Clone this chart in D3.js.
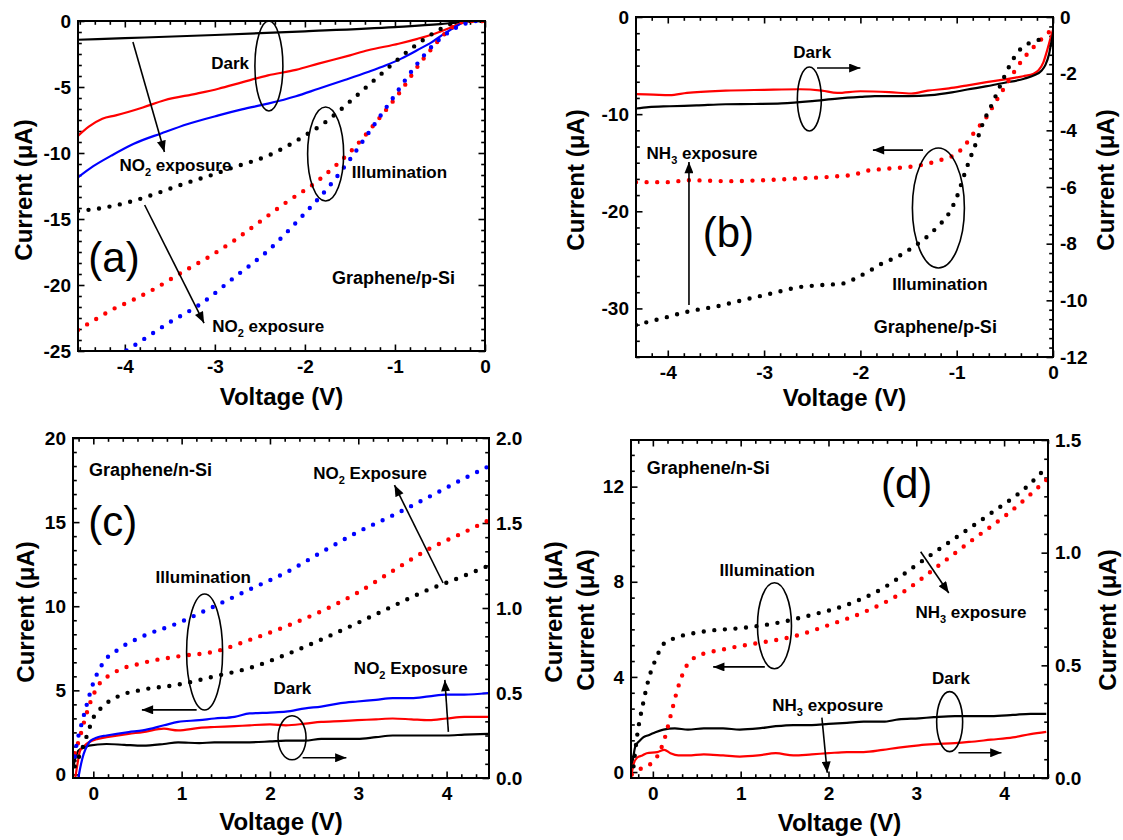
<!DOCTYPE html>
<html><head><meta charset="utf-8">
<script src="https://cdn.jsdelivr.net/npm/d3@7"></script>
<style>
body{margin:0;background:#fff;}
svg text{font-family:"Liberation Sans",Arial,sans-serif;fill:#000;}
</style>
</head><body>
<svg id="fig" width="1123" height="840"></svg>
<script>
// ---------------- DATA (voltage V, current uA) ----------------
// Panel (a) Graphene/p-Si, NO2
const aDark0 = [[-4.52,-1.42],[-4.0,-1.3],[-3.0,-1.06],[-2.0,-0.78],[-1.0,-0.46],[-0.5,-0.24],[-0.25,-0.08],[0,0]];
const aDark1 = [[-4.52,-8.7],[-4.4,-8.0],[-4.25,-7.4],[-4.1,-7.15],[-3.8,-6.55],[-3.56,-6.0],[-3.2,-5.5],[-2.96,-5.13],[-2.7,-4.65],[-2.41,-4.12],[-2.1,-3.7],[-1.85,-3.23],[-1.5,-2.6],[-1.3,-2.22],[-0.96,-1.72],[-0.75,-1.35],[-0.56,-0.96],[-0.4,-0.55],[-0.26,-0.15],[-0.15,0],[0,0]];
const aDark2 = [[-4.52,-11.85],[-4.35,-11.0],[-4.15,-10.2],[-3.9,-9.3],[-3.59,-8.5],[-3.3,-7.8],[-2.96,-7.15],[-2.7,-6.7],[-2.41,-6.26],[-2.1,-5.7],[-1.85,-5.13],[-1.55,-4.45],[-1.3,-3.86],[-1.1,-3.35],[-0.93,-2.85],[-0.75,-2.2],[-0.59,-1.6],[-0.45,-0.95],[-0.33,-0.45],[-0.19,0],[0,0]];
const aIllum0 = [[-4.52,-14.4],[-4.2,-14.1],[-3.89,-13.6],[-3.6,-12.95],[-3.33,-12.3],[-3.05,-11.7],[-2.78,-11.06],[-2.41,-10.2],[-2.15,-9.3],[-1.96,-8.5],[-1.8,-7.8],[-1.67,-7.1],[-1.5,-6.1],[-1.3,-4.9],[-1.15,-4.0],[-1.0,-3.1],[-0.85,-2.25],[-0.7,-1.5],[-0.58,-0.95],[-0.48,-0.55],[-0.37,-0.2],[-0.26,0],[0,0]];
const aIllum1 = [[-4.52,-23.4],[-4.3,-22.5],[-4.15,-21.9],[-3.9,-21.1],[-3.7,-20.4],[-3.33,-18.9],[-3.05,-17.8],[-2.78,-16.6],[-2.5,-15.2],[-2.22,-13.8],[-1.85,-12.07],[-1.65,-10.9],[-1.48,-9.8],[-1.19,-7.5],[-0.93,-5.25],[-0.7,-3.0],[-0.58,-2.0],[-0.48,-1.2],[-0.33,-0.33],[-0.19,0],[0,0]];
const aIllum2 = [[-4.08,-25.4],[-3.81,-24.2],[-3.52,-22.9],[-3.15,-21.4],[-2.78,-19.4],[-2.41,-17.4],[-2.04,-14.85],[-1.74,-12.6],[-1.48,-10.3],[-1.3,-8.54],[-1.04,-6.0],[-0.78,-3.48],[-0.56,-1.72],[-0.37,-0.7],[-0.2,-0.15],[-0.11,0],[0,0]];

// Panel (b) Graphene/p-Si, NH3 (dark on right axis, illumination on left axis)
const bDark0 = [[-4.33,-3.23],[-4.2,-3.18],[-3.98,-3.15],[-3.7,-3.12],[-3.4,-3.08],[-3.1,-3.07],[-2.82,-3.05],[-2.5,-2.97],[-2.24,-2.88],[-2.0,-2.82],[-1.85,-2.79],[-1.5,-2.79],[-1.27,-2.76],[-1.05,-2.66],[-0.89,-2.56],[-0.7,-2.45],[-0.5,-2.32],[-0.3,-2.18],[-0.19,-2.05],[-0.12,-1.9],[-0.08,-1.7],[-0.04,-1.3],[-0.02,-0.94],[0,-0.59]];
const bDark1 = [[-4.33,-2.72],[-4.15,-2.74],[-3.98,-2.76],[-3.8,-2.68],[-3.4,-2.6],[-3.0,-2.57],[-2.63,-2.55],[-2.4,-2.6],[-2.24,-2.68],[-2.0,-2.62],[-1.7,-2.65],[-1.47,-2.7],[-1.3,-2.6],[-1.08,-2.52],[-0.9,-2.42],[-0.69,-2.3],[-0.5,-2.2],[-0.31,-2.09],[-0.2,-2.0],[-0.15,-1.88],[-0.1,-1.6],[-0.06,-1.17],[-0.03,-0.8],[0,-0.45]];
const bIllum0 = [[-4.33,-31.7],[-4.05,-31.0],[-3.78,-30.3],[-3.5,-29.8],[-3.2,-29.1],[-2.9,-28.4],[-2.63,-27.8],[-2.4,-27.6],[-2.16,-27.4],[-2.05,-26.9],[-1.9,-26.1],[-1.78,-25.4],[-1.6,-24.6],[-1.47,-23.8],[-1.33,-22.8],[-1.2,-21.6],[-1.08,-20.2],[-0.99,-18.3],[-0.93,-16.5],[-0.87,-14.8],[-0.8,-13.0],[-0.73,-11.0],[-0.63,-8.9],[-0.54,-6.9],[-0.45,-5.0],[-0.35,-3.43],[-0.25,-2.7],[-0.12,-2.3]];
const bIllum1 = [[-4.33,-17.0],[-4.0,-17.0],[-3.78,-16.8],[-3.4,-16.9],[-3.01,-16.8],[-2.6,-16.6],[-2.24,-16.4],[-2.05,-16.2],[-1.97,-15.9],[-1.7,-15.6],[-1.47,-15.4],[-1.3,-15.1],[-1.16,-14.7],[-1.0,-14.05],[-0.92,-13.3],[-0.85,-12.3],[-0.77,-11.3],[-0.69,-10.3],[-0.6,-8.8],[-0.5,-7.2],[-0.4,-5.6],[-0.31,-4.3],[-0.22,-3.3],[-0.15,-2.57],[-0.08,-1.9],[-0.04,-1.54]];

// Panel (c) Graphene/n-Si, NO2 (illumination left axis, dark right axis)
const cIllum0 = [[-0.21,0.48],[-0.13,1.47],[-0.06,2.5],[-0.01,3.25],[0.11,4.05],[0.28,4.64],[0.56,5.04],[0.96,5.34],[1.37,5.83],[1.77,6.33],[2.18,7.12],[2.58,8.02],[2.99,9.0],[3.39,10.0],[3.8,11.0],[4.0,11.4],[4.47,12.4]];
const cIllum1 = [[-0.21,1.27],[-0.15,2.26],[-0.1,3.2],[-0.05,4.05],[0.05,5.24],[0.23,6.03],[0.56,6.63],[0.96,7.02],[1.37,7.3],[1.77,8.0],[2.18,8.8],[2.58,9.7],[2.99,10.8],[3.39,12.1],[3.8,13.4],[4.2,14.4],[4.47,15.1]];
const cIllum2 = [[-0.21,1.07],[-0.19,1.77],[-0.15,2.66],[-0.09,3.85],[0,5.44],[0.11,6.63],[0.28,7.42],[0.56,8.21],[0.96,9.0],[1.37,10.0],[1.77,11.0],[2.18,12.0],[2.58,13.2],[2.99,14.4],[3.39,15.4],[3.8,16.5],[4.2,17.6],[4.47,18.3]];
const cDark0 = [[-0.23,0.06],[-0.2,0.12],[-0.17,0.16],[-0.1,0.18],[-0.05,0.19],[0.15,0.2],[0.35,0.195],[0.56,0.19],[0.8,0.2],[0.96,0.21],[1.2,0.205],[1.37,0.21],[1.6,0.21],[1.77,0.21],[2.0,0.215],[2.18,0.22],[2.4,0.22],[2.58,0.23],[2.8,0.23],[2.99,0.23],[3.2,0.24],[3.39,0.25],[3.6,0.25],[3.8,0.25],[4.0,0.25],[4.2,0.255],[4.47,0.26]];
const cDark1 = [[-0.21,-0.02],[-0.18,0.08],[-0.15,0.16],[-0.1,0.19],[-0.05,0.21],[0.05,0.23],[0.15,0.24],[0.4,0.26],[0.56,0.27],[0.8,0.29],[0.96,0.28],[1.2,0.295],[1.37,0.3],[1.6,0.305],[1.77,0.31],[2.0,0.315],[2.18,0.31],[2.4,0.32],[2.58,0.33],[2.8,0.335],[2.99,0.34],[3.2,0.345],[3.39,0.35],[3.6,0.345],[3.8,0.34],[4.0,0.35],[4.2,0.36],[4.47,0.36]];
const cDark2 = [[-0.18,-0.03],[-0.14,0.08],[-0.11,0.14],[-0.07,0.19],[-0.03,0.22],[0.05,0.24],[0.15,0.25],[0.4,0.27],[0.56,0.28],[0.8,0.31],[0.96,0.33],[1.2,0.34],[1.37,0.35],[1.6,0.36],[1.77,0.38],[2.0,0.385],[2.18,0.39],[2.4,0.41],[2.58,0.42],[2.8,0.44],[2.99,0.45],[3.2,0.46],[3.39,0.47],[3.6,0.47],[3.8,0.48],[4.0,0.49],[4.2,0.49],[4.47,0.5]];

// Panel (d) Graphene/n-Si, NH3
const dIllum0 = [[-0.22,0.24],[-0.18,1.5],[-0.11,2.9],[-0.05,3.88],[0.03,4.72],[0.13,5.42],[0.25,5.63],[0.58,5.91],[0.99,6.05],[1.4,6.26],[1.81,6.61],[2.21,7.03],[2.62,7.73],[3.03,8.78],[3.44,9.83],[3.85,10.88],[4.26,12.0],[4.48,12.8]];
const dIllum1 = [[-0.24,-0.1],[-0.15,0.12],[-0.07,0.24],[0.05,0.66],[0.13,1.36],[0.21,2.48],[0.29,3.6],[0.38,4.44],[0.5,4.86],[0.78,5.14],[1.19,5.42],[1.6,5.7],[2.01,6.19],[2.42,6.75],[2.83,7.52],[3.24,8.64],[3.64,9.76],[4.05,10.88],[4.48,12.28]];
const dDark0 = [[-0.25,0.02],[-0.22,0.1],[-0.2,0.14],[-0.15,0.165],[-0.11,0.18],[-0.05,0.19],[0.01,0.2],[0.12,0.215],[0.25,0.22],[0.4,0.215],[0.58,0.22],[0.8,0.22],[0.99,0.215],[1.2,0.22],[1.4,0.23],[1.6,0.235],[1.81,0.235],[2.0,0.24],[2.21,0.245],[2.4,0.25],[2.62,0.25],[2.8,0.26],[3.03,0.265],[3.2,0.27],[3.44,0.275],[3.6,0.275],[3.85,0.275],[4.1,0.28],[4.3,0.285],[4.48,0.285]];
const dDark1 = [[-0.25,0.0],[-0.22,0.06],[-0.18,0.09],[-0.12,0.1],[-0.07,0.11],[0.05,0.115],[0.13,0.125],[0.2,0.11],[0.29,0.1],[0.4,0.1],[0.58,0.105],[0.8,0.1],[0.99,0.095],[1.2,0.1],[1.4,0.11],[1.6,0.1],[1.81,0.105],[2.0,0.11],[2.21,0.115],[2.4,0.115],[2.62,0.125],[2.8,0.135],[3.03,0.145],[3.2,0.15],[3.44,0.155],[3.6,0.16],[3.85,0.17],[4.1,0.18],[4.3,0.195],[4.48,0.205]];

// Tick values
const aXTicks = [-4,-3,-2,-1,0];
const aYTicks = [0,-5,-10,-15,-20,-25];
const bXTicks = [-4,-3,-2,-1,0];
const bYTicks = [0,-10,-20,-30];
const bY2Ticks = [0,-2,-4,-6,-8,-10,-12];
const cXTicks = [0,1,2,3,4];
const cYTicks = [0,5,10,15,20];
const cY2Ticks = [0,0.5,1.0,1.5,2.0];
const dXTicks = [0,1,2,3,4];
const dYTicks = [0,4,8,12];
const dY2Ticks = [0,0.5,1.0,1.5];

// ---------------- DRAWING ----------------
const RED = "#ff0000", BLUE = "#0000ff", BLACK = "#000000";
const svg = d3.select("#fig");
const defs = svg.append("defs");
defs.append("marker").attr("id","ah").attr("viewBox","0 0 10 8")
  .attr("refX",10).attr("refY",4).attr("markerWidth",12).attr("markerHeight",9)
  .attr("markerUnits","userSpaceOnUse").attr("orient","auto")
  .append("path").attr("d","M0,0L10,4L0,8Z").attr("fill","#000");

function minorTicks(domain, majors, n) {
  const step = Math.abs(majors[1]-majors[0]) / n;
  const lo = Math.min(domain[0],domain[1]), hi = Math.max(domain[0],domain[1]);
  const out = [];
  for (let k = Math.ceil(lo/step - 1e-6); k*step <= hi + 1e-6; k++) {
    const v = k*step;
    if (!majors.some(m => Math.abs(m - v) < step*0.05)) out.push(v);
  }
  return out;
}
const intFmt = d => String(d);
const oneDec = d => d.toFixed(1);

function styleAxis(sel, fontSize) {
  sel.select(".domain").remove();
  sel.selectAll(".tick line").attr("stroke","#000").attr("stroke-width",1.6);
  sel.selectAll(".tick text").attr("font-size",fontSize).attr("font-weight","bold")
     .attr("font-family","'Liberation Sans',Arial,sans-serif").attr("fill","#000");
  sel.attr("font-family",null).attr("font-size",null);
}

let clipId = 0;
function drawPanel(p) {
  const g = svg.append("g");
  const x = d3.scaleLinear().domain(p.xDomain).range([p.left, p.right]);
  const yL = d3.scaleLinear().domain(p.yDomain).range([p.bottom, p.top]);
  const yR = p.y2Domain ? d3.scaleLinear().domain(p.y2Domain).range([p.bottom, p.top]) : null;
  const MJ = 6.5, MN = 3.8, TF = 19;

  // axes
  const xMin = minorTicks(p.xDomain, p.xTicks, 6);
  const yMin = minorTicks(p.yDomain, p.yTicks, 6);
  g.append("g").attr("transform",`translate(0,${p.bottom})`)
    .call(d3.axisBottom(x).tickValues(p.xTicks).tickSize(-MJ).tickPadding(9).tickFormat(p.xFmt)).call(styleAxis, TF);
  g.append("g").attr("transform",`translate(0,${p.bottom})`)
    .call(d3.axisBottom(x).tickValues(xMin).tickSize(-MN).tickFormat("")).call(styleAxis, TF);
  g.append("g").attr("transform",`translate(0,${p.top})`)
    .call(d3.axisTop(x).tickValues(p.xTicks).tickSize(-MJ).tickFormat("")).call(styleAxis, TF);
  g.append("g").attr("transform",`translate(0,${p.top})`)
    .call(d3.axisTop(x).tickValues(xMin).tickSize(-MN).tickFormat("")).call(styleAxis, TF);
  g.append("g").attr("transform",`translate(${p.left},0)`)
    .call(d3.axisLeft(yL).tickValues(p.yTicks).tickSize(-MJ).tickPadding(7).tickFormat(p.yFmt)).call(styleAxis, TF);
  g.append("g").attr("transform",`translate(${p.left},0)`)
    .call(d3.axisLeft(yL).tickValues(yMin).tickSize(-MN).tickFormat("")).call(styleAxis, TF);
  if (yR) {
    const y2Min = minorTicks(p.y2Domain, p.y2Ticks, 6);
    g.append("g").attr("transform",`translate(${p.right},0)`)
      .call(d3.axisRight(yR).tickValues(p.y2Ticks).tickSize(-MJ).tickPadding(7).tickFormat(p.y2Fmt)).call(styleAxis, TF);
    g.append("g").attr("transform",`translate(${p.right},0)`)
      .call(d3.axisRight(yR).tickValues(y2Min).tickSize(-MN).tickFormat("")).call(styleAxis, TF);
  } else {
    g.append("g").attr("transform",`translate(${p.right},0)`)
      .call(d3.axisRight(yL).tickValues(p.yTicks).tickSize(-MJ).tickFormat("")).call(styleAxis, TF);
    g.append("g").attr("transform",`translate(${p.right},0)`)
      .call(d3.axisRight(yL).tickValues(yMin).tickSize(-MN).tickFormat("")).call(styleAxis, TF);
  }

  // data
  const cid = "clip" + (clipId++);
  defs.append("clipPath").attr("id",cid).append("rect")
    .attr("x",p.left).attr("y",p.top).attr("width",p.right-p.left).attr("height",p.bottom-p.top);
  const dg = g.append("g").attr("clip-path",`url(#${cid})`);
  p.series.forEach(s => {
    const ys = s.axis === "R" ? yR : yL;
    const line = d3.line().x(d => x(d[0])).y(d => ys(d[1])).curve(d3.curveMonotoneX);
    const path = dg.append("path").datum(s.data).attr("d", line).attr("fill","none").attr("stroke", s.color);
    if (s.dotted) {
      path.attr("stroke-width",4.4).attr("stroke-linecap","round").attr("stroke-dasharray","0 10.6");
    } else {
      path.attr("stroke-width",2.2).attr("stroke-linejoin","round");
    }
  });

  // frame
  g.append("rect").attr("x",p.left).attr("y",p.top).attr("width",p.right-p.left).attr("height",p.bottom-p.top)
    .attr("fill","none").attr("stroke","#000").attr("stroke-width",2);

  // axis titles
  const cy = (p.top + p.bottom)/2;
  g.append("text").attr("transform",`translate(${p.yTitleX},${p.yTitleY ?? cy}) rotate(-90)`)
    .attr("text-anchor","middle").attr("dominant-baseline","central")
    .attr("font-size",24).attr("font-weight","bold").text("Current (μA)");
  if (yR) {
    g.append("text").attr("transform",`translate(${p.y2TitleX},${p.yTitleY ?? cy}) rotate(-90)`)
      .attr("text-anchor","middle").attr("dominant-baseline","central")
      .attr("font-size",24).attr("font-weight","bold").text("Current (μA)");
  }
  g.append("text").attr("x",(p.left+p.right)/2).attr("y",p.xTitleY)
    .attr("text-anchor","middle").attr("font-size",24).attr("font-weight","bold").text("Voltage (V)");

  // annotations
  const sy = a => (a === "R" ? yR : yL);
  (p.ellipses||[]).forEach(e => {
    g.append("ellipse").attr("cx",x(e.at[0])).attr("cy",yL(e.at[1])).attr("rx",e.rx).attr("ry",e.ry)
      .attr("fill","none").attr("stroke","#000").attr("stroke-width",1.6);
  });
  (p.arrows||[]).forEach(a => {
    g.append("line").attr("x1",x(a.from[0])).attr("y1",yL(a.from[1]))
      .attr("x2",x(a.to[0])).attr("y2",yL(a.to[1]))
      .attr("stroke","#000").attr("stroke-width",1.6).attr("marker-end","url(#ah)");
  });
  (p.labels||[]).forEach(l => {
    const t = g.append("text").attr("x",x(l.at[0])).attr("y",yL(l.at[1]) + (l.size||17)*0.36)
      .attr("text-anchor",l.anchor||"start").attr("font-size",l.size||17)
      .attr("font-weight",l.weight||"bold");
    let shifted = false;
    l.parts.forEach(part => {
      const ts = t.append("tspan").text(part.t);
      if (part.sub) { ts.attr("font-size",11).attr("dy",5); shifted = true; }
      else if (shifted) { ts.attr("dy",-5); shifted = false; }
    });
  });
}

const P = t => [{t}];
const SUB = (a,b,c) => [{t:a},{t:b,sub:true},{t:c}];

// (a)
drawPanel({
  left:78, right:485, top:21, bottom:351,
  xDomain:[-4.52,0], yDomain:[-25,0], xTicks:aXTicks, yTicks:aYTicks, xFmt:intFmt, yFmt:intFmt,
  yTitleX:23, yTitleY:190, xTitleY:405,
  series:[
    {data:aDark0,color:BLACK},{data:aDark1,color:RED},{data:aDark2,color:BLUE},
    {data:aIllum0,color:BLACK,dotted:true},{data:aIllum1,color:RED,dotted:true},{data:aIllum2,color:BLUE,dotted:true}
  ],
  ellipses:[{at:[-2.4,-3.41],rx:14,ry:45},{at:[-1.77,-10.08],rx:18,ry:47}],
  arrows:[{from:[-3.91,-1.59],to:[-3.56,-9.92]},{from:[-3.78,-13.94],to:[-3.12,-22.88]}],
  labels:[
    {at:[-2.83,-3.18],parts:P("Dark"),anchor:"middle"},
    {at:[-4.06,-10.9],parts:SUB("NO","2"," exposure")},
    {at:[-1.48,-11.44],parts:P("Illumination")},
    {at:[-3.03,-23.1],parts:SUB("NO","2"," exposure")},
    {at:[-1.7,-19.4],parts:P("Graphene/p-Si"),size:18},
    {at:[-4.12,-17.9],parts:P("(a)"),anchor:"middle",size:42,weight:"normal"}
  ]
});

// (b)
drawPanel({
  left:636, right:1053, top:17, bottom:357,
  xDomain:[-4.33,0], yDomain:[-35,0], y2Domain:[-12,0],
  xTicks:bXTicks, yTicks:bYTicks, y2Ticks:bY2Ticks, xFmt:intFmt, yFmt:intFmt, y2Fmt:intFmt,
  yTitleX:575, y2TitleX:1105, yTitleY:180, xTitleY:406,
  series:[
    {data:bDark1,color:RED,axis:"R"},{data:bDark0,color:BLACK,axis:"R"},
    {data:bIllum1,color:RED,dotted:true},{data:bIllum0,color:BLACK,dotted:true}
  ],
  ellipses:[{at:[-2.53,-8.44],rx:12,ry:32},{at:[-1.19,-19.66],rx:26,ry:60}],
  arrows:[{from:[-2.45,-5.25],to:[-2.0,-5.25]},{from:[-3.78,-29.65],to:[-3.78,-14.93]},{from:[-1.35,-13.7],to:[-1.87,-13.7]}],
  labels:[
    {at:[-2.5,-3.6],parts:P("Dark"),anchor:"middle"},
    {at:[-4.22,-14.0],parts:SUB("NH","3"," exposure")},
    {at:[-1.67,-27.5],parts:P("Illumination")},
    {at:[-1.86,-31.9],parts:P("Graphene/p-Si"),size:18},
    {at:[-3.37,-22.1],parts:P("(b)"),anchor:"middle",size:42,weight:"normal"}
  ]
});

// (c)
drawPanel({
  left:73, right:489, top:438, bottom:778,
  xDomain:[-0.23,4.48], yDomain:[-0.21,20], y2Domain:[0,2],
  xTicks:cXTicks, yTicks:cYTicks, y2Ticks:cY2Ticks, xFmt:intFmt, yFmt:intFmt, y2Fmt:oneDec,
  yTitleX:25, y2TitleX:553, yTitleY:612, xTitleY:830,
  series:[
    {data:cDark0,color:BLACK,axis:"R"},{data:cDark1,color:RED,axis:"R"},{data:cDark2,color:BLUE,axis:"R"},
    {data:cIllum0,color:BLACK,dotted:true},{data:cIllum1,color:RED,dotted:true},{data:cIllum2,color:BLUE,dotted:true}
  ],
  ellipses:[{at:[1.26,7.28],rx:18,ry:58},{at:[2.25,2.18],rx:14,ry:22}],
  arrows:[{from:[3.96,11.38],to:[3.41,17.2]},{from:[1.17,3.84],to:[0.55,3.84]},{from:[4.02,2.53],to:[3.98,5.62]},{from:[2.37,0.99],to:[2.865,0.99]}],
  labels:[
    {at:[-0.05,18.1],parts:P("Graphene/n-Si"),size:18},
    {at:[0.22,15.1],parts:P("(c)"),anchor:"middle",size:42,weight:"normal"},
    {at:[2.49,17.9],parts:SUB("NO","2"," Exposure")},
    {at:[0.705,11.74],parts:P("Illumination")},
    {at:[2.95,6.33],parts:SUB("NO","2"," Exposure")},
    {at:[2.04,5.15],parts:P("Dark")}
  ]
});

// (d)
drawPanel({
  left:631, right:1048, top:440, bottom:778,
  xDomain:[-0.249,4.5], yDomain:[-0.25,13.96], y2Domain:[0,1.5],
  xTicks:dXTicks, yTicks:dYTicks, y2Ticks:dY2Ticks, xFmt:intFmt, yFmt:intFmt, y2Fmt:oneDec,
  yTitleX:585, y2TitleX:1107, yTitleY:620, xTitleY:831,
  series:[
    {data:dDark0,color:BLACK,axis:"R"},{data:dDark1,color:RED,axis:"R"},
    {data:dIllum0,color:BLACK,dotted:true},{data:dIllum1,color:RED,dotted:true}
  ],
  ellipses:[{at:[1.385,6.15],rx:17,ry:43},{at:[3.38,2.12],rx:13,ry:30}],
  arrows:[{from:[1.275,4.42],to:[0.687,4.42]},{from:[3.05,9.26],to:[3.37,7.53]},{from:[3.48,0.81],to:[3.97,0.81]},{from:[1.925,2.29],to:[1.986,-0.03]}],
  labels:[
    {at:[-0.07,12.79],parts:P("Graphene/n-Si"),size:18},
    {at:[2.89,12.16],parts:P("(d)"),anchor:"middle",size:42,weight:"normal"},
    {at:[0.76,8.5],parts:P("Illumination")},
    {at:[2.99,6.74],parts:SUB("NH","3"," exposure")},
    {at:[3.18,3.96],parts:P("Dark")},
    {at:[1.36,2.83],parts:SUB("NH","3"," exposure")}
  ]
});
</script>
</body></html>
